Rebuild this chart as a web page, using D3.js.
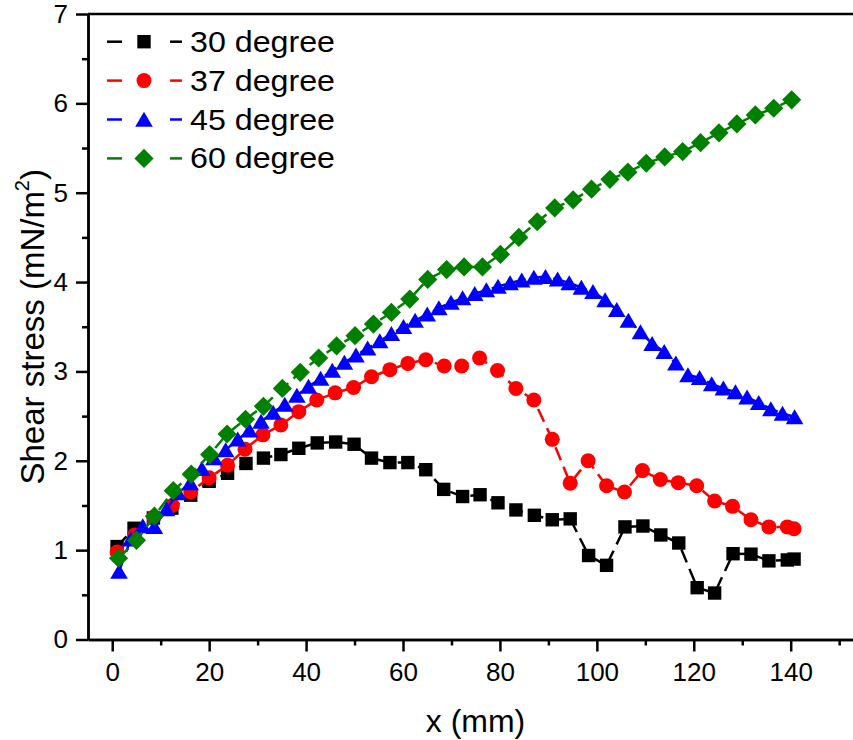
<!DOCTYPE html>
<html>
  <head>
    <meta charset="utf-8">
    <title>Shear stress vs x</title>
    <script src="https://cdn.jsdelivr.net/npm/d3@7"></script>
    <style>
      body { margin: 0; background: #fff; }
      #chart { display: block; font-family: "Liberation Sans", Arial, sans-serif; }
      .axis path, .axis line { stroke: #000; stroke-width: 2.5; }
      .axis text { font-size: 26px; fill: #000; font-family: "Liberation Sans", Arial, sans-serif; }
      .series-line { fill: none; stroke-width: 2.5; stroke-dasharray: 14 7; }
    </style>
  </head>
  <body>
    <svg id="chart" width="853" height="740"></svg>
    <script>
      // tick values
      const xMajorTicks = [0, 20, 40, 60, 80, 100, 120, 140];
      const xMinorTicks = [10, 30, 50, 70, 90, 110, 130, 150];
      const yMajorTicks = [0, 1, 2, 3, 4, 5, 6, 7];
      const yMinorTicks = [0.5, 1.5, 2.5, 3.5, 4.5, 5.5, 6.5];

      const seriesNames = ["30 degree", "37 degree", "45 degree", "60 degree"];

      // 30 degree
      const x30 = [1.0, 4.5, 8.5, 12.3, 16.2, 20.0, 23.8, 27.6, 31.2, 34.8, 38.5, 42.3, 46.1, 49.9, 53.5,
        57.3, 61.0, 64.7, 68.4, 72.3, 75.9, 79.6, 83.3, 87.1, 90.8, 94.5, 98.3, 102.0, 105.8, 109.5,
        113.2, 116.9, 120.7, 124.3, 128.1, 131.8, 135.5, 139.3, 140.7];
      const shear30 = [1.04, 1.245, 1.36, 1.47, 1.615, 1.77, 1.86, 1.97, 2.03, 2.07, 2.14, 2.20, 2.21, 2.185, 2.03,
        1.98, 1.98, 1.90, 1.68, 1.60, 1.62, 1.53, 1.45, 1.39, 1.34, 1.35, 0.94, 0.83, 1.26, 1.27,
        1.17, 1.08, 0.58, 0.52, 0.96, 0.955, 0.88, 0.89, 0.90];

      // 37 degree
      const x37 = [1.0, 4.6, 8.6, 12.4, 16.2, 20.0, 23.8, 27.4, 31.1, 34.8, 38.5, 42.2, 46.0, 49.8, 53.5,
        57.3, 61.0, 64.7, 68.5, 72.1, 75.8, 79.5, 83.3, 87.0, 90.8, 94.5, 98.2, 102.0, 105.7, 109.4,
        113.1, 116.8, 120.6, 124.3, 128.0, 131.8, 135.5, 139.3, 140.7];
      const shear37 = [0.98, 1.17, 1.37, 1.50, 1.65, 1.81, 1.95, 2.13, 2.29, 2.40, 2.55, 2.68, 2.76, 2.82, 2.94,
        3.02, 3.09, 3.13, 3.06, 3.06, 3.15, 3.01, 2.81, 2.68, 2.24, 1.75, 2.00, 1.72, 1.65, 1.89,
        1.79, 1.755, 1.72, 1.55, 1.49, 1.34, 1.26, 1.26, 1.24];

      // 45 degree
      const x45 = [1.4, 3.8, 6.3, 8.7, 11.2, 13.6, 16.1, 18.5, 21.0, 23.4, 25.9, 28.3, 30.7, 33.2, 35.6,
        38.1, 40.5, 43.0, 45.4, 47.9, 50.3, 52.7, 55.2, 57.6, 60.1, 62.5, 65.0, 67.4, 69.9, 72.3,
        74.8, 77.2, 79.6, 82.1, 84.5, 87.0, 89.4, 91.9, 94.3, 96.8, 99.2, 101.7, 104.1, 106.5, 109.0,
        111.4, 113.9, 116.3, 118.8, 121.2, 123.7, 126.1, 128.6, 131.0, 133.4, 135.9, 138.3, 140.8];
      const shear45 = [0.76, 1.12, 1.27, 1.26, 1.46, 1.64, 1.75, 1.91, 2.03, 2.12, 2.24, 2.34, 2.44, 2.54, 2.63,
        2.73, 2.83, 2.92, 3.01, 3.10, 3.18, 3.26, 3.34, 3.42, 3.50, 3.57, 3.64, 3.71, 3.77, 3.82,
        3.87, 3.91, 3.95, 3.99, 4.02, 4.05, 4.06, 4.03, 3.99, 3.94, 3.89, 3.80, 3.69, 3.57, 3.44,
        3.31, 3.22, 3.09, 2.96, 2.93, 2.86, 2.81, 2.77, 2.71, 2.65, 2.58, 2.53, 2.49];

      // 60 degree
      const x60 = [1.3, 5.0, 8.7, 12.6, 16.3, 20.1, 23.7, 27.5, 31.2, 35.1, 38.8, 42.6, 46.3, 50.1, 53.9,
        57.6, 61.4, 65.1, 69.0, 72.6, 76.4, 80.1, 83.9, 87.7, 91.3, 95.1, 98.9, 102.7, 106.4, 110.2,
        114.0, 117.7, 121.4, 125.2, 128.9, 132.7, 136.5, 140.2];
      const shear60 = [0.91, 1.11, 1.38, 1.665, 1.85, 2.07, 2.30, 2.465, 2.61, 2.81, 2.99, 3.15, 3.285, 3.40, 3.53,
        3.66, 3.81, 4.03, 4.14, 4.17, 4.17, 4.31, 4.50, 4.675, 4.83, 4.92, 5.04, 5.15, 5.23, 5.33,
        5.40, 5.46, 5.56, 5.67, 5.77, 5.87, 5.945, 6.04];

      const colors = ["#000000", "#ff0000", "#0000ff", "#008000"];
      const shapes = ["square", "circle", "triangle", "diamond"];

      const series = [
        { name: seriesNames[0], xs: x30, ys: shear30 },
        { name: seriesNames[1], xs: x37, ys: shear37 },
        { name: seriesNames[2], xs: x45, ys: shear45 },
        { name: seriesNames[3], xs: x60, ys: shear60 }
      ].map((s, i) => ({
        name: s.name,
        color: colors[i],
        shape: shapes[i],
        points: s.xs.map((v, j) => [v, s.ys[j]])
      }));

      const svg = d3.select("#chart");

      const plotLeft = 88, plotRight = 863.4, plotTop = 14, plotBottom = 639.5;

      const xScale = d3.scaleLinear().domain([-5, 155]).range([plotLeft, plotRight]);
      const yScale = d3.scaleLinear().domain([0, 7]).range([plotBottom, plotTop]);

      function markerPath(shape) {
        if (shape === "square") return "M-6.7,-6.7h13.4v13.4h-13.4z";
        if (shape === "triangle") return "M0,-7.8L8.8,7.2L-8.8,7.2Z";
        if (shape === "diamond") return "M0,-9.6L9.6,0L0,9.6L-9.6,0Z";
        return d3.symbol().type(d3.symbolCircle).size(Math.PI * 7.5 * 7.5)();
      }

      // frame line at the top
      svg.append("line")
        .attr("x1", plotLeft).attr("x2", 853)
        .attr("y1", yScale(7)).attr("y2", yScale(7))
        .attr("stroke", "#000").attr("stroke-width", 2.5);

      // minor ticks first, major axes on top
      svg.append("g").attr("class", "axis")
        .attr("transform", `translate(0,${plotBottom})`)
        .call(d3.axisBottom(xScale).tickValues(xMinorTicks).tickSize(6).tickSizeOuter(0).tickFormat(""));
      svg.append("g").attr("class", "axis")
        .attr("transform", `translate(${plotLeft},0)`)
        .call(d3.axisLeft(yScale).tickValues(yMinorTicks).tickSize(6).tickSizeOuter(0).tickFormat(""));

      svg.append("g").attr("class", "axis")
        .attr("transform", `translate(0,${plotBottom})`)
        .call(d3.axisBottom(xScale).tickValues(xMajorTicks).tickSize(12).tickSizeOuter(0)
          .tickPadding(11).tickFormat(d3.format("d")));
      svg.append("g").attr("class", "axis")
        .attr("transform", `translate(${plotLeft},0)`)
        .call(d3.axisLeft(yScale).tickValues(yMajorTicks).tickSize(12).tickSizeOuter(0)
          .tickPadding(8).tickFormat(d3.format("d")));

      // series: dashed line then symbols
      const valueLine = d3.line()
        .x(d => xScale(d[0]))
        .y(d => yScale(d[1]));

      const groups = svg.selectAll(".series")
        .data(series)
        .join("g")
        .attr("class", "series");

      groups.append("path")
        .attr("class", "series-line")
        .attr("d", d => valueLine(d.points))
        .attr("stroke", d => d.color);

      groups.each(function (s) {
        d3.select(this).selectAll("path.pt")
          .data(s.points)
          .join("path")
          .attr("class", "pt")
          .attr("d", markerPath(s.shape))
          .attr("transform", d => `translate(${xScale(d[0])},${yScale(d[1])})`)
          .attr("fill", s.color);
      });

      // legend
      const legend = svg.append("g").attr("class", "legend");
      const rows = legend.selectAll("g")
        .data(series)
        .join("g")
        .attr("transform", (d, i) => `translate(0,${41.7 + i * 38.9})`);

      rows.append("line")
        .attr("x1", 107).attr("x2", 122).attr("y1", 0).attr("y2", 0)
        .attr("stroke", d => d.color).attr("stroke-width", 2.5);
      rows.append("line")
        .attr("x1", 170).attr("x2", 182).attr("y1", 0).attr("y2", 0)
        .attr("stroke", d => d.color).attr("stroke-width", 2.5);
      rows.append("path")
        .attr("d", d => markerPath(d.shape))
        .attr("transform", "translate(144,0)")
        .attr("fill", d => d.color);
      rows.append("text")
        .attr("x", 190).attr("y", 10)
        .attr("font-size", 29)
        .attr("textLength", 145)
        .attr("lengthAdjust", "spacingAndGlyphs")
        .text(d => d.name);

      // axis titles
      svg.append("text")
        .attr("x", 475.5).attr("y", 731.5)
        .attr("text-anchor", "middle")
        .attr("font-size", 32)
        .text("x (mm)");

      const yTitle = svg.append("text")
        .attr("transform", `translate(44,${(plotTop + plotBottom) / 2}) rotate(-90)`)
        .attr("text-anchor", "middle")
        .attr("font-size", 33);
      yTitle.append("tspan").text("Shear stress (mN/m");
      yTitle.append("tspan").attr("font-size", 20).attr("dy", -15).text("2");
      yTitle.append("tspan").attr("dy", 15).text(")");
    </script>
  </body>
</html>
